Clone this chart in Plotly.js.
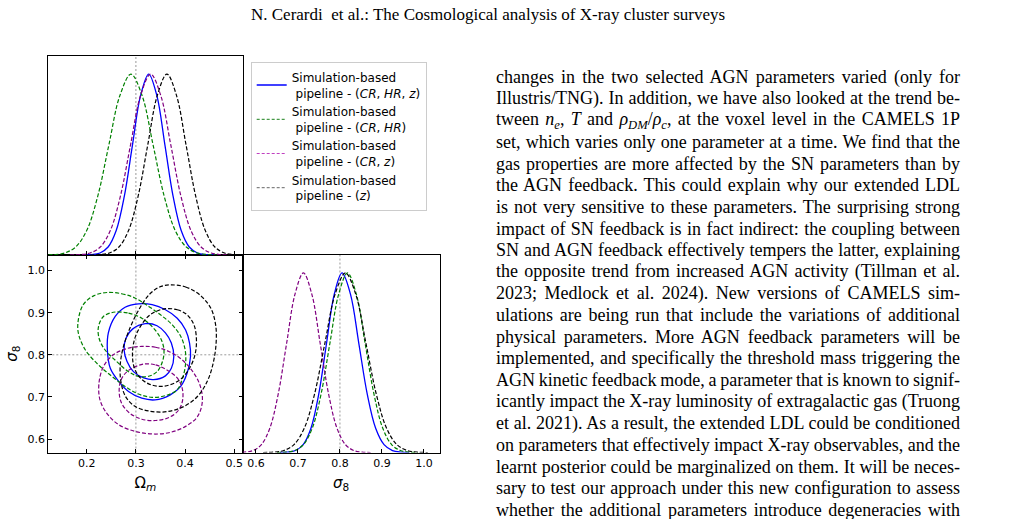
<!DOCTYPE html>
<html><head><meta charset="utf-8">
<script src="https://cdn.plot.ly/plotly-3.0.1.min.js"></script>
<style>html,body{margin:0;padding:0;background:#fff;}#chart{width:1017px;height:519px;}</style>
</head><body><div id="chart"></div>
<script>
// ---------- data ----------
const OM_TICKS = [0.2, 0.3, 0.4, 0.5];
const S8_TICKS = [0.6, 0.7, 0.8, 0.9, 1.0];
const TRUTH_OM = 0.3;
const TRUTH_S8 = 0.8;
const OM_RANGE = [0.122, 0.5166];
const S8_RANGE = [0.568, 1.037];
const PDF_RANGE = [0, 1.1];

const SERIES_NAMES = [
  'Simulation-based<br> pipeline - (<i>CR</i>, <i>HR</i>, <i>z</i>)',
  'Simulation-based<br> pipeline - (<i>CR</i>, <i>HR</i>)',
  'Simulation-based<br> pipeline - (<i>CR</i>, <i>z</i>)',
  'Simulation-based<br> pipeline - (<i>z</i>)'
];

const PDF_H = [0.000, 0.002, 0.011, 0.044, 0.135, 0.325, 0.607, 0.882, 1.000, 0.882, 0.607, 0.325, 0.135, 0.044, 0.011, 0.002, 0.000];

// 1D marginal of Omega_m
const OM1D_CRHRZ_X = [0.194, 0.2105, 0.227, 0.2435, 0.260, 0.2765, 0.293, 0.3095, 0.326, 0.3425, 0.359, 0.3755, 0.392, 0.4085, 0.425, 0.4415, 0.458];
const OM1D_CRHR_X  = [0.110, 0.1325, 0.155, 0.1775, 0.200, 0.2225, 0.245, 0.2675, 0.290, 0.3125, 0.335, 0.3575, 0.380, 0.4025, 0.425, 0.4475, 0.470];
const OM1D_CRZ_X   = [0.166, 0.1865, 0.207, 0.2275, 0.248, 0.2685, 0.289, 0.3095, 0.330, 0.3505, 0.371, 0.3915, 0.412, 0.4325, 0.453, 0.4735, 0.494];
const OM1D_Z_X     = [0.207, 0.2265, 0.246, 0.2655, 0.285, 0.3045, 0.324, 0.3435, 0.363, 0.3825, 0.402, 0.4215, 0.441, 0.4605, 0.480, 0.4995, 0.519];

// 1D marginal of sigma_8
const S81D_CRHRZ_X = [0.657, 0.6755, 0.694, 0.7125, 0.731, 0.7495, 0.768, 0.7865, 0.805, 0.825, 0.845, 0.865, 0.885, 0.905, 0.925, 0.945, 0.965];
const S81D_CRHR_X  = [0.650, 0.671, 0.692, 0.713, 0.734, 0.755, 0.776, 0.797, 0.818, 0.839, 0.860, 0.881, 0.902, 0.923, 0.944, 0.965, 0.986];
const S81D_CRZ_X   = [0.553, 0.573, 0.593, 0.613, 0.633, 0.653, 0.673, 0.693, 0.713, 0.733, 0.753, 0.773, 0.793, 0.813, 0.833, 0.853, 0.873];
const S81D_Z_X     = [0.617, 0.6415, 0.666, 0.6905, 0.715, 0.7395, 0.764, 0.7885, 0.813, 0.8375, 0.862, 0.8865, 0.911, 0.9355, 0.960, 0.9845, 1.009];

// 2D contours (outer = 95%, inner = 68%)
const C_CRHRZ_OUT_OM = [0.305, 0.333, 0.360, 0.384, 0.401, 0.409, 0.411, 0.404, 0.391, 0.370, 0.339, 0.312, 0.285, 0.265, 0.248, 0.242, 0.244, 0.258, 0.278, 0.305];
const C_CRHRZ_OUT_S8 = [0.921, 0.919, 0.907, 0.887, 0.859, 0.828, 0.796, 0.756, 0.725, 0.705, 0.693, 0.697, 0.713, 0.737, 0.768, 0.812, 0.852, 0.891, 0.913, 0.921];
const C_CRHRZ_IN_OM  = [0.319, 0.343, 0.360, 0.372, 0.377, 0.372, 0.360, 0.336, 0.316, 0.295, 0.282, 0.276, 0.280, 0.293, 0.319];
const C_CRHRZ_IN_S8  = [0.874, 0.869, 0.852, 0.828, 0.796, 0.768, 0.750, 0.741, 0.745, 0.760, 0.784, 0.812, 0.840, 0.861, 0.874];

const C_CRHR_OUT_OM = [0.241, 0.271, 0.298, 0.326, 0.350, 0.374, 0.391, 0.400, 0.401, 0.395, 0.384, 0.360, 0.333, 0.305, 0.278, 0.251, 0.224, 0.197, 0.183, 0.183, 0.193, 0.214, 0.241];
const C_CRHR_OUT_S8 = [0.948, 0.945, 0.935, 0.915, 0.895, 0.871, 0.844, 0.812, 0.780, 0.745, 0.717, 0.703, 0.699, 0.707, 0.725, 0.749, 0.776, 0.812, 0.852, 0.883, 0.919, 0.940, 0.948];
const C_CRHR_IN_OM  = [0.254, 0.285, 0.312, 0.333, 0.350, 0.357, 0.354, 0.343, 0.326, 0.305, 0.285, 0.261, 0.237, 0.225, 0.224, 0.234, 0.254];
const C_CRHR_IN_S8  = [0.901, 0.899, 0.887, 0.867, 0.840, 0.812, 0.784, 0.760, 0.749, 0.749, 0.760, 0.784, 0.812, 0.840, 0.867, 0.891, 0.901];

const C_CRZ_OUT_OM = [0.312, 0.340, 0.367, 0.394, 0.418, 0.431, 0.435, 0.425, 0.401, 0.367, 0.333, 0.299, 0.265, 0.241, 0.227, 0.225, 0.234, 0.254, 0.282, 0.312];
const C_CRZ_OUT_S8 = [0.820, 0.818, 0.808, 0.788, 0.756, 0.725, 0.689, 0.653, 0.630, 0.615, 0.612, 0.618, 0.634, 0.661, 0.693, 0.733, 0.772, 0.800, 0.815, 0.820];
const C_CRZ_IN_OM  = [0.316, 0.340, 0.363, 0.384, 0.394, 0.395, 0.387, 0.367, 0.340, 0.312, 0.288, 0.271, 0.266, 0.270, 0.285, 0.316];
const C_CRZ_IN_S8  = [0.778, 0.776, 0.764, 0.745, 0.721, 0.693, 0.669, 0.651, 0.644, 0.647, 0.661, 0.685, 0.713, 0.741, 0.763, 0.778];

const C_Z_OUT_OM = [0.370, 0.401, 0.429, 0.452, 0.462, 0.463, 0.457, 0.445, 0.425, 0.397, 0.363, 0.329, 0.299, 0.280, 0.270, 0.268, 0.273, 0.285, 0.304, 0.327, 0.348, 0.370];
const C_Z_OUT_S8 = [0.966, 0.961, 0.943, 0.911, 0.871, 0.828, 0.780, 0.737, 0.701, 0.677, 0.665, 0.666, 0.677, 0.699, 0.733, 0.772, 0.812, 0.855, 0.903, 0.943, 0.961, 0.966];
const C_Z_IN_OM  = [0.357, 0.384, 0.404, 0.418, 0.423, 0.420, 0.409, 0.391, 0.370, 0.350, 0.326, 0.309, 0.297, 0.293, 0.297, 0.309, 0.329, 0.357];
const C_Z_IN_S8  = [0.909, 0.907, 0.895, 0.871, 0.836, 0.800, 0.768, 0.742, 0.729, 0.725, 0.731, 0.745, 0.768, 0.800, 0.836, 0.867, 0.895, 0.909];

const HEADER_TEXT = 'N. Cerardi  et al.: The Cosmological analysis of X-ray cluster surveys';
const BODY_LINES = [
  'changes in the two selected AGN parameters varied (only for',
  'Illustris/TNG). In addition, we have also looked at the trend be-',
  'tween <i>n</i><sub><i>e</i></sub>, <i>T</i> and <i>ρ</i><sub><i>DM</i></sub>/<i>ρ</i><sub><i>c</i></sub>, at the voxel level in the CAMELS 1P',
  'set, which varies only one parameter at a time. We find that the',
  'gas properties are more affected by the SN parameters than by',
  'the AGN feedback. This could explain why our extended LDL',
  'is not very sensitive to these parameters. The surprising strong',
  'impact of SN feedback is in fact indirect: the coupling between',
  'SN and AGN feedback effectively tempers the latter, explaining',
  'the opposite trend from increased AGN activity (Tillman et al.',
  '2023; Medlock et al. 2024). New versions of CAMELS sim-',
  'ulations are being run that include the variations of additional',
  'physical parameters. More AGN feedback parameters will be',
  'implemented, and specifically the threshold mass triggering the',
  'AGN kinetic feedback mode, a parameter that is known to signif-',
  'icantly impact the X-ray luminosity of extragalactic gas (Truong',
  'et al. 2021). As a result, the extended LDL could be conditioned',
  'on parameters that effectively impact X-ray observables, and the',
  'learnt posterior could be marginalized on them. It will be neces-',
  'sary to test our approach under this new configuration to assess',
  'whether the additional parameters introduce degeneracies with',
  'the cosmological ones.'
];

// ---------- styling ----------
const W = 1017, H = 519;
const SANS = 'DejaVu Sans, sans-serif';
const SERIF = 'Liberation Serif, Times New Roman, serif';
const COLORS = ['#0000ff', '#008000', '#800080', '#000000'];
const LEGEND_COLORS = ['#0000ff', '#1a801a', '#c040c0', '#666666'];
const DASHES = ['solid', '4px,2px', '4px,2px', '4px,2px'];
const WIDTHS = [1.3, 1.2, 1.2, 1.2];

const OM1D_X = [OM1D_CRHRZ_X, OM1D_CRHR_X, OM1D_CRZ_X, OM1D_Z_X];
const S81D_X = [S81D_CRHRZ_X, S81D_CRHR_X, S81D_CRZ_X, S81D_Z_X];
const CONTOURS = [
  [[C_CRHRZ_OUT_OM, C_CRHRZ_OUT_S8], [C_CRHRZ_IN_OM, C_CRHRZ_IN_S8]],
  [[C_CRHR_OUT_OM, C_CRHR_OUT_S8], [C_CRHR_IN_OM, C_CRHR_IN_S8]],
  [[C_CRZ_OUT_OM, C_CRZ_OUT_S8], [C_CRZ_IN_OM, C_CRZ_IN_S8]],
  [[C_Z_OUT_OM, C_Z_OUT_S8], [C_Z_IN_OM, C_Z_IN_S8]]
];

const traces = [];
for (let i = 0; i < 4; i++) {
  const line = {color: COLORS[i], width: WIDTHS[i], dash: DASHES[i], shape: 'spline', smoothing: 1};
  traces.push({type: 'scatter', mode: 'lines', x: OM1D_X[i], y: PDF_H, xaxis: 'x2', yaxis: 'y2', line: line, showlegend: false, hoverinfo: 'skip'});
  traces.push({type: 'scatter', mode: 'lines', x: S81D_X[i], y: PDF_H, xaxis: 'x3', yaxis: 'y3', line: line, showlegend: false, hoverinfo: 'skip'});
  CONTOURS[i].forEach(function (c) {
    traces.push({type: 'scatter', mode: 'lines', x: c[0], y: c[1], xaxis: 'x', yaxis: 'y', line: line, showlegend: false, hoverinfo: 'skip'});
  });
}
for (let i = 0; i < 4; i++) {
  traces.push({type: 'scatter', mode: 'lines', x: [null], y: [null], xaxis: 'x', yaxis: 'y', name: SERIES_NAMES[i],
    line: {color: LEGEND_COLORS[i], width: i === 0 ? 1.5 : 1, dash: i === 0 ? 'solid' : '3px,2px'}, showlegend: true});
}

const common = {showgrid: false, zeroline: false, showline: true, linecolor: '#000', linewidth: 1,
  ticks: 'inside', ticklen: 4, tickwidth: 1, tickcolor: '#000', tickformat: '.1f',
  tickfont: {family: SANS, size: 11, color: '#000'}};
const XD1 = [48.3 / W, 242.5 / W], XD2 = [242.5 / W, 439.5 / W];
const YBOT = [1 - 452.5 / H, 1 - 255 / H], YTOP = [1 - 255 / H, 1 - 56 / H];

const refLine = {color: '#9a9a9a', width: 1, dash: '2px,2px'};
const shapes = [
  {type: 'line', layer: 'below', xref: 'x2', yref: 'y2 domain', x0: TRUTH_OM, x1: TRUTH_OM, y0: 0, y1: 1, line: refLine},
  {type: 'line', layer: 'below', xref: 'x', yref: 'y domain', x0: TRUTH_OM, x1: TRUTH_OM, y0: 0, y1: 1, line: refLine},
  {type: 'line', layer: 'below', xref: 'x domain', yref: 'y', x0: 0, x1: 1, y0: TRUTH_S8, y1: TRUTH_S8, line: refLine},
  {type: 'line', layer: 'below', xref: 'x3', yref: 'y3 domain', x0: TRUTH_S8, x1: TRUTH_S8, y0: 0, y1: 1, line: refLine}
];

const BODY_LEFT = 494, BODY_RIGHT = 958, BODY_TOP = 77, LINE_H = 21.65, BODY_SIZE = 18;
const annotations = [{
  xref: 'paper', yref: 'paper', x: 488 / W, y: 1 - 14 / H, xanchor: 'center', yanchor: 'middle',
  text: HEADER_TEXT, showarrow: false, font: {family: SERIF, size: 17, color: '#000'}
}];
BODY_LINES.forEach(function (t, i) {
  annotations.push({xref: 'paper', yref: 'paper', x: BODY_LEFT / W, y: 1 - (BODY_TOP + i * LINE_H) / H,
    xanchor: 'left', yanchor: 'middle', align: 'left', text: t, showarrow: false,
    font: {family: SERIF, size: BODY_SIZE, color: '#000'}});
});

const layout = {
  width: W, height: H, margin: {l: 0, r: 0, t: 0, b: 0},
  paper_bgcolor: '#fff', plot_bgcolor: '#fff', font: {family: SANS, color: '#000'},
  showlegend: true,
  legend: {x: 250.7 / W, y: 1 - 62 / H, xanchor: 'left', yanchor: 'top', bgcolor: '#fff',
    bordercolor: '#cccccc', borderwidth: 1, font: {family: SANS, size: 12, color: '#000'}, tracegroupgap: 0},
  xaxis: Object.assign({}, common, {domain: XD1, anchor: 'y', range: OM_RANGE, tickvals: OM_TICKS, mirror: 'ticks',
    title: {text: 'Ω<sub><i>m</i></sub>', font: {family: SANS, size: 15}, standoff: 8}}),
  yaxis: Object.assign({}, common, {domain: YBOT, anchor: 'x', range: S8_RANGE, tickvals: S8_TICKS, mirror: 'ticks',
    title: {text: '<i>σ</i><sub>8</sub>', font: {family: SANS, size: 15}, standoff: 6}}),
  xaxis2: Object.assign({}, common, {domain: XD1, anchor: 'y2', range: OM_RANGE, tickvals: OM_TICKS, showticklabels: false, mirror: true}),
  yaxis2: Object.assign({}, common, {domain: YTOP, anchor: 'x2', range: PDF_RANGE, ticks: '', showticklabels: false, mirror: true}),
  xaxis3: Object.assign({}, common, {domain: XD2, anchor: 'y3', range: S8_RANGE, tickvals: S8_TICKS, mirror: true,
    title: {text: '<i>σ</i><sub>8</sub>', font: {family: SANS, size: 15}, standoff: 8}}),
  yaxis3: Object.assign({}, common, {domain: YBOT, anchor: 'x3', range: PDF_RANGE, ticks: '', showticklabels: false, mirror: true}),
  shapes: shapes,
  annotations: annotations
};

const gd = document.getElementById('chart');
Plotly.newPlot(gd, traces, layout, {staticPlot: true, displayModeBar: false}).then(function () {
  // justify body text lines (all but the last)
  const groups = gd.querySelectorAll('.annotation');
  groups.forEach(function (g) {
    const idx = +g.getAttribute('data-index');
    const li = idx - 1;
    if (li < 0 || li >= BODY_LINES.length - 1) return;
    const te = g.querySelector('.annotation-text');
    if (!te) return;
    const natural = te.getComputedTextLength();
    const plain = te.textContent;
    const n = (plain.match(/ /g) || []).length;
    if (!n) return;
    const ws = (BODY_RIGHT - BODY_LEFT - natural) / n;
    te.style.wordSpacing = ws + 'px';
  });
});
</script></body></html>
